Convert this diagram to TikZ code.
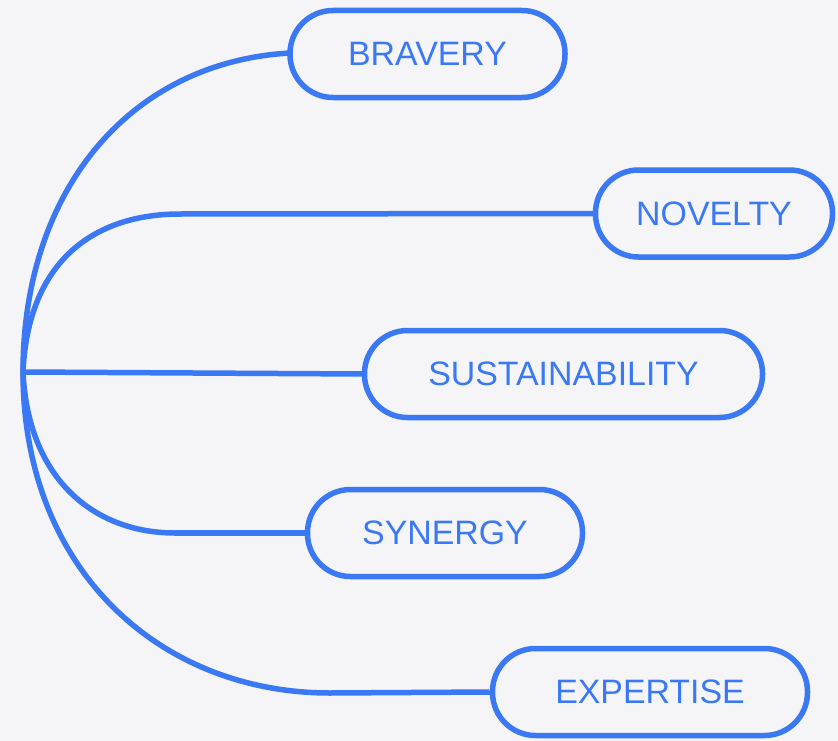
\documentclass[tikz,border=0pt]{standalone}
\usepackage{fontspec}
\setmainfont{Liberation Sans}
\definecolor{mblue}{HTML}{3A78F4}
\definecolor{bg}{HTML}{F5F5F7}
\begin{document}
\begin{tikzpicture}[x=1bp,y=-1bp,
  pill/.style={draw=mblue, line width=5.5bp, rounded corners=43bp, minimum height=87bp,
    inner sep=0pt, text=mblue, font=\fontsize{34}{38}\selectfont, fill=bg},
  link/.style={draw=mblue, line width=5.5bp}]
\fill[bg] (0,0) rectangle (838,741);
\useasboundingbox (0,0) rectangle (838,741);
\coordinate (hub) at (23,372);
\coordinate (n1) at (180,214);
\coordinate (s1) at (175,533);
\coordinate (e1) at (330,693);
\draw[link] (hub) .. controls (23,190) and (130,62) .. (290,53);
\draw[link] (hub) .. controls (28,260) and (95,214) .. (n1);
\draw[link] (hub) -- (364,374);
\draw[link] (hub) .. controls (28,480) and (95,533) .. (s1);
\draw[link] (hub) .. controls (23,570) and (160,693) .. (e1);
\node[pill, minimum width=275bp] (bra) at (427.5,54) {BRAVERY};
\node[pill, minimum width=237bp] (nov) at (714,213.5) {NOVELTY};
\node[pill, minimum width=398bp] (sus) at (563.5,374) {SUSTAINABILITY};
\node[pill, minimum width=275bp] (syn) at (445,533) {SYNERGY};
\node[pill, minimum width=315bp] (exp) at (650,692) {EXPERTISE};
\draw[link] (n1) -- (nov.west);
\draw[link] (s1) -- (syn.west);
\draw[link] (e1) -- (exp.west);
\end{tikzpicture}
\end{document}
